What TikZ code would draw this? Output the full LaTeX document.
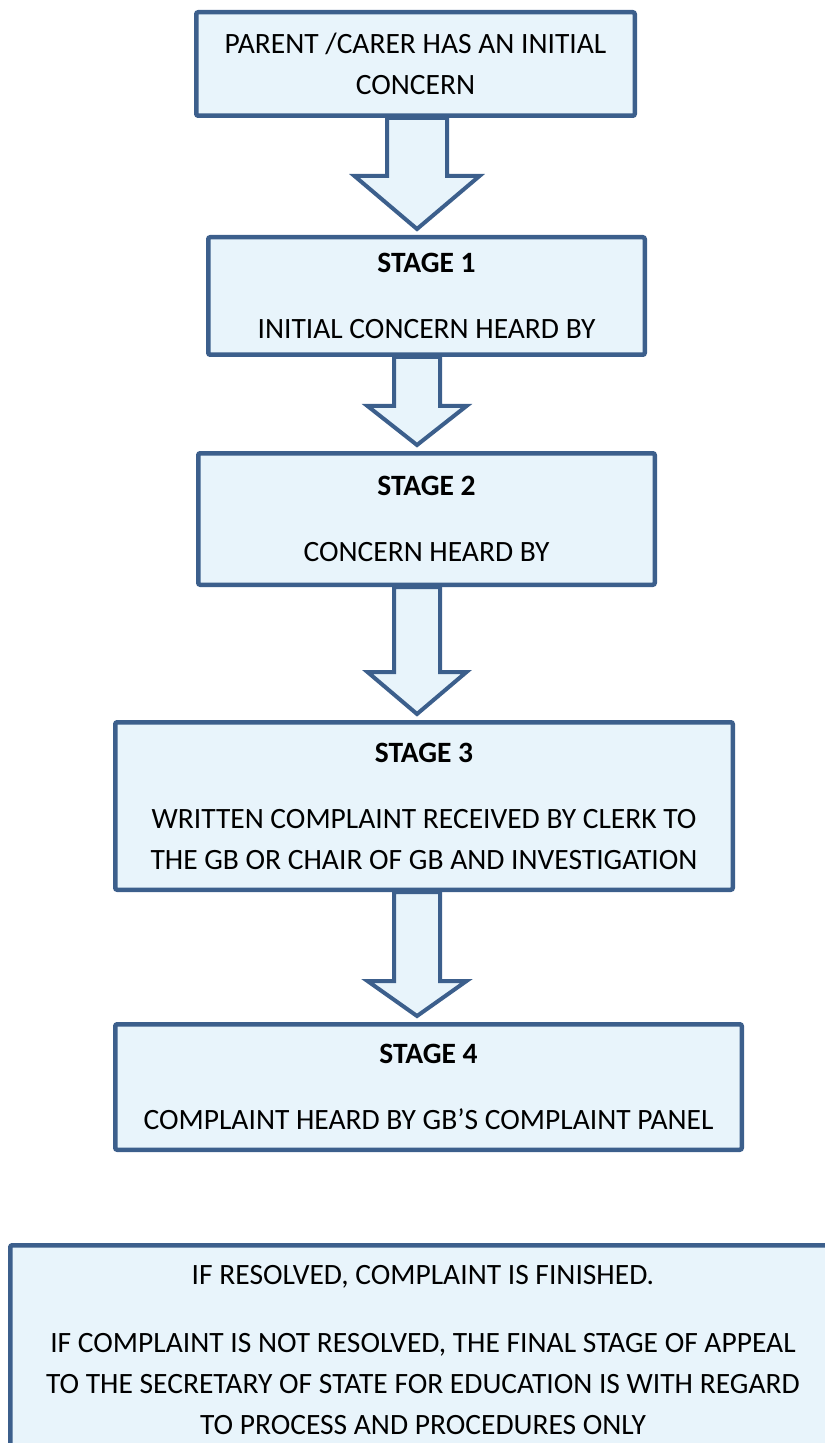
\documentclass[tikz,border=0pt]{standalone}
\usepackage{fontspec}
\setmainfont{Carlito}
\usetikzlibrary{positioning,calc}
\definecolor{boxline}{HTML}{3C5F8C}
\definecolor{boxfill}{HTML}{E8F4FB}
\tikzstyle{stagebox} = [rectangle, draw=boxline, fill=boxfill, line width=2.25pt,
                rounded corners=1pt, align=center, inner sep=0pt,
                font=\fontsize{14.75}{20.5}\selectfont]
\tikzstyle{bigarrow} = [draw=boxline, fill=boxfill, line width=2pt]
% block arrow: from, to, shaft half width, head half width, head length
\newcommand{\blockarrow}[5]{%
  \coordinate (tip) at ($(axis |- #2.north)+(0,3pt)$);
  \path[bigarrow] ($(axis |- #1.south)+(-#3,0)$) -- ($(tip)+(-#3,#5)$)
    -- ($(tip)+(-#4,#5)$) -- (tip) -- ($(tip)+(#4,#5)$)
    -- ($(tip)+(#3,#5)$) -- ($(axis |- #1.south)+(#3,0)$) -- cycle;}
\begin{document}
\begin{tikzpicture}
    \useasboundingbox (0,0) rectangle (412pt,-721.5pt);
    \coordinate (axis) at (208.5pt,0);
    \node[stagebox, anchor=north, minimum width=219.25pt, minimum height=51.75pt](concern) at (207.75pt,-5pt)
        {PARENT /CARER HAS AN INITIAL\\ CONCERN};
    \node[stagebox, below=58.5pt of concern, xshift=5.5pt, minimum width=218.25pt, minimum height=58.75pt](stage1)
        {\textbf{STAGE 1}\\[12.5pt] INITIAL CONCERN HEARD BY};
    \node[stagebox, below=47pt of stage1, minimum width=228.25pt, minimum height=65.75pt](stage2)
        {\textbf{STAGE 2}\\[12.5pt] CONCERN HEARD BY};
    \node[stagebox, below=66.5pt of stage2, xshift=-1.25pt, minimum width=308.75pt, minimum height=83.75pt](stage3)
        {\textbf{STAGE 3}\\[12.5pt] WRITTEN COMPLAINT RECEIVED BY CLERK TO\\ THE GB OR CHAIR OF GB AND INVESTIGATION};
    \node[stagebox, below=65pt of stage3, xshift=2.25pt, minimum width=313.25pt, minimum height=62.75pt](stage4)
        {\textbf{STAGE 4}\\[12.5pt] COMPLAINT HEARD BY GB'S COMPLAINT PANEL};
    \node[stagebox, below=45.5pt of stage4, xshift=-2.75pt, minimum width=412.75pt, minimum height=104.8pt](outcome)
        {IF RESOLVED, COMPLAINT IS FINISHED.\\[13.5pt] IF COMPLAINT IS NOT RESOLVED, THE FINAL STAGE OF APPEAL\\
         TO THE SECRETARY OF STATE FOR EDUCATION IS WITH REGARD\\ TO PROCESS AND PROCEDURES ONLY};
    \blockarrow{concern}{stage1}{15pt}{31.25pt}{26.5pt}
    \blockarrow{stage1}{stage2}{11.5pt}{24.75pt}{19.5pt}
    \blockarrow{stage2}{stage3}{11.5pt}{24.75pt}{21pt}
    \blockarrow{stage3}{stage4}{11.5pt}{24.75pt}{17.5pt}
\end{tikzpicture}
\end{document}
